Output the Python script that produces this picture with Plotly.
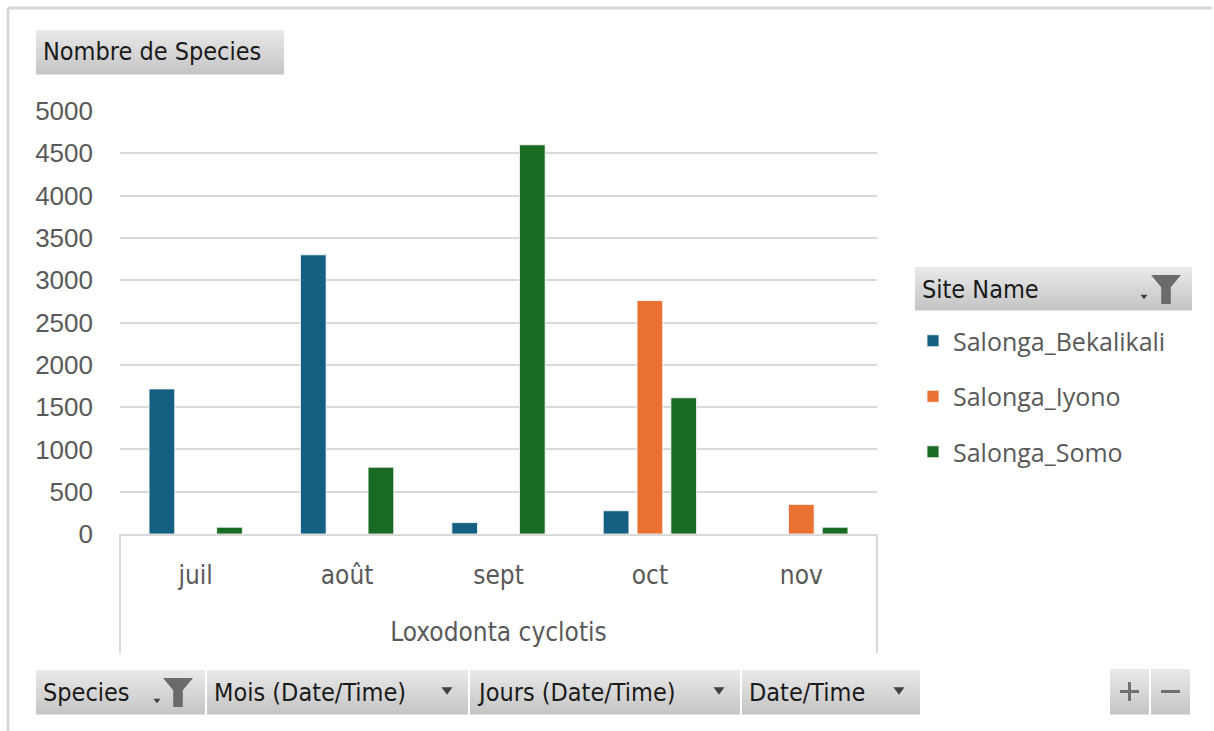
import plotly.graph_objects as go

# ---------------- data ----------------
months = ["juil", "août", "sept", "oct", "nov"]
sites = ["Salonga_Bekalikali", "Salonga_Iyono", "Salonga_Somo"]
bekalikali = [1715, 3300, 135, 275, None]
iyono = [None, None, None, 2760, 350]
somo = [80, 790, 4600, 1610, 80]
y_ticks = [0, 500, 1000, 1500, 2000, 2500, 3000, 3500, 4000, 4500, 5000]
species_label = "Loxodonta cyclotis"
colors = ["#156082", "#E97132", "#196B24"]

W, H = 1214, 731


def X(px):
    return px / W


def Y(py):
    return 1 - py / H


fig = go.Figure()
for name, vals, col in zip(sites, [bekalikali, iyono, somo], colors):
    fig.add_trace(go.Bar(
        x=months, y=vals, name=name, legendgroup=name,
        marker=dict(color=col, line=dict(color="rgba(255,255,255,0.8)", width=1)),
    ))

shapes = []
annotations = []

# outer frame
shapes.append(dict(type="line", xref="paper", yref="paper", x0=X(8), x1=X(1212), y0=Y(8), y1=Y(8),
                   line=dict(color="#d9d9d9", width=3)))
shapes.append(dict(type="line", xref="paper", yref="paper", x0=X(8), x1=X(8), y0=Y(8), y1=Y(731),
                   line=dict(color="#d9d9d9", width=3)))

# category box under the plot
for xx in (120, 877):
    shapes.append(dict(type="line", xref="paper", yref="paper", x0=X(xx), x1=X(xx), y0=Y(534), y1=Y(653),
                       line=dict(color="#d9d9d9", width=2)))


def grad_box(x0, y0, x1, y1, top=(232, 232, 232), bottom=(198, 198, 198), n=14):
    h = (y1 - y0) / n
    for i in range(n):
        t = i / (n - 1)
        c = tuple(int(round(top[k] + (bottom[k] - top[k]) * t)) for k in range(3))
        shapes.append(dict(type="rect", xref="paper", yref="paper", layer="below",
                           x0=X(x0), x1=X(x1), y0=Y(y0 + (i + 1) * h + 0.5), y1=Y(y0 + i * h),
                           line=dict(width=0), fillcolor="rgb(%d,%d,%d)" % c))


def funnel(x0, y0, w, h, color="#6b6b6b"):
    xs = [x0, x0 + w, x0 + w * 0.66, x0 + w * 0.66, x0 + w * 0.34, x0 + w * 0.34]
    ys = [y0, y0, y0 + h * 0.42, y0 + h, y0 + h, y0 + h * 0.42]
    path = "M " + " L ".join("%f,%f" % (X(a), Y(b)) for a, b in zip(xs, ys)) + " Z"
    shapes.append(dict(type="path", xref="paper", yref="paper", path=path,
                       fillcolor=color, line=dict(width=0)))


def small_arrow(cx, cy, w=7, color="#404040"):
    path = "M %f,%f L %f,%f L %f,%f Z" % (X(cx - w / 2), Y(cy - w / 3), X(cx + w / 2), Y(cy - w / 3),
                                          X(cx), Y(cy + w / 3))
    shapes.append(dict(type="path", xref="paper", yref="paper", path=path,
                       fillcolor=color, line=dict(width=0)))


btn_font = dict(family="Liberation Sans Narrow, DejaVu Sans Condensed, Roboto", size=25, color="#1a1a1a")

# "Nombre de Species" header
grad_box(36, 30, 284, 74)
annotations.append(dict(text="Nombre de Species", xref="paper", yref="paper", x=X(41), y=Y(52),
                        xanchor="left", yanchor="middle", showarrow=False, font=btn_font))

# "Site Name" legend header
grad_box(915, 267, 1192, 310)
annotations.append(dict(text="Site Name", xref="paper", yref="paper", x=X(920), y=Y(289),
                        xanchor="left", yanchor="middle", showarrow=False, font=btn_font))
small_arrow(1144, 297, w=7)
funnel(1151, 275, 30, 29)

# bottom field buttons
buttons = [("Species", 36, 205), ("Mois (Date/Time)", 207, 468),
           ("Jours (Date/Time)", 470, 740), ("Date/Time", 742, 920)]
for label, bx0, bx1 in buttons:
    grad_box(bx0, 670, bx1, 714)
    annotations.append(dict(text=label, xref="paper", yref="paper", x=X(bx0 + 5), y=Y(692),
                            xanchor="left", yanchor="middle", showarrow=False, font=btn_font))
    if label == "Species":
        small_arrow(157, 701, w=7)
        funnel(163, 678, 30, 29)
    else:
        small_arrow(bx1 - 21, 691, w=11)

# +/- buttons
grad_box(1110, 669, 1149, 714)
grad_box(1151, 669, 1190, 714)
shapes.append(dict(type="line", xref="paper", yref="paper", x0=X(1120), x1=X(1139), y0=Y(691.5), y1=Y(691.5),
                   line=dict(color="#707070", width=3)))
shapes.append(dict(type="line", xref="paper", yref="paper", x0=X(1129.5), x1=X(1129.5), y0=Y(682), y1=Y(701),
                   line=dict(color="#707070", width=3)))
shapes.append(dict(type="line", xref="paper", yref="paper", x0=X(1161), x1=X(1180), y0=Y(691.5), y1=Y(691.5),
                   line=dict(color="#707070", width=3)))

axis_font = dict(family="Liberation Sans, Arial, sans-serif", size=26, color="#595959")
cat_font = dict(family="Liberation Sans Narrow, DejaVu Sans Condensed, Roboto", size=26, color="#595959")

fig.update_layout(
    width=W, height=H,
    margin=dict(l=0, r=0, t=0, b=0),
    paper_bgcolor="white", plot_bgcolor="white",
    barmode="group", bargap=0.33, bargroupgap=0.24,
    showlegend=True,
    legend=dict(x=X(913), y=Y(318), xanchor="left", yanchor="top",
                font=dict(family="Open Sans, Liberation Sans, sans-serif", size=25, color="#595959"),
                tracegroupgap=20, traceorder="grouped", bgcolor="rgba(0,0,0,0)",
                itemclick=False, itemdoubleclick=False),
    xaxis=dict(domain=[X(120), X(877)], showgrid=False, showline=True, linecolor="#d9d9d9", linewidth=2,
               ticks="", tickfont=cat_font, ticklabelstandoff=17, automargin=False,
               title=dict(text=species_label, font=cat_font, standoff=34)),
    yaxis=dict(domain=[Y(534), Y(111)], range=[0, 5000], tickvals=y_ticks, showgrid=True,
               gridcolor="#d9d9d9", gridwidth=2, zeroline=False, showline=False, ticks="",
               tickfont=axis_font, ticklabelstandoff=26, automargin=False),
    shapes=shapes, annotations=annotations,
    hovermode=False,
)

fig.write_html("out.html", config={"displayModeBar": False},
               post_script="document.body.style.margin='0';")
